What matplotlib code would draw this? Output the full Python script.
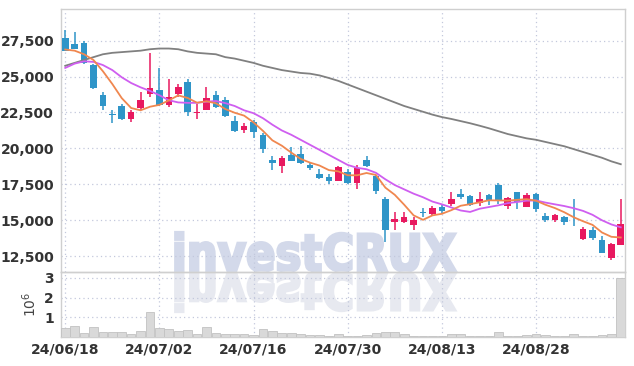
import matplotlib
matplotlib.use("Agg")
import matplotlib.pyplot as plt
import numpy as np
from matplotlib.textpath import TextPath
from matplotlib.patches import PathPatch
from matplotlib.font_manager import FontProperties
from matplotlib.transforms import Affine2D

plt.rcParams['font.family'] = ['Liberation Sans Narrow', 'DejaVu Sans']

# trading days 24/06/18 .. 24/09/10
date_labels = ['24/06/18', '24/07/02', '24/07/16', '24/07/30', '24/08/13', '24/08/28']
date_pos = [0, 10, 20, 30, 40, 50]

opens = [27650, 27250, 27350, 25800, 23750, 22350, 22950, 22050, 22800, 23800,
         24050, 23000, 23800, 24600, 22450, 22700, 23700, 23350, 21900, 21300,
         21850, 20900, 19200, 18800, 19550, 19600, 18850, 18250, 18000, 17750,
         18350, 17600, 19200, 18050, 16450, 14900, 14850, 14700, 15550, 15450,
         15950, 16150, 16800, 16700, 16200, 16750, 17450, 16000, 16950, 15950,
         16850, 15300, 15000, 15200, 15050, 13700, 14350, 13650, 12400, 13300]
highs = [28250, 28100, 27500, 25850, 23900, 22700, 23100, 22650, 23950, 26650,
         25600, 24800, 24450, 24800, 23100, 24250, 24000, 23550, 22250, 21800,
         22000, 21100, 19450, 19500, 20100, 20200, 19000, 18550, 18200, 18800,
         18600, 18850, 19450, 18150, 16600, 15600, 15600, 15250, 15850, 16000,
         16150, 17000, 17150, 16750, 17000, 16800, 17600, 16650, 17000, 16900,
         16900, 15500, 15450, 15300, 16450, 14500, 14500, 13900, 13400, 16500]
lows = [26750, 26900, 25900, 24150, 22650, 21800, 21950, 21850, 22650, 23550,
        22950, 22850, 23600, 22250, 22050, 22650, 22800, 22200, 21150, 21100,
        20750, 19650, 18500, 18300, 19100, 18900, 18500, 17900, 17550, 17700,
        17550, 17200, 18700, 16850, 13500, 14300, 14800, 14350, 15250, 15400,
        15500, 16000, 16450, 16000, 16000, 16050, 16100, 15750, 15750, 15900,
        15550, 14850, 14850, 14650, 14600, 13650, 13650, 12700, 12250, 13250]
closes = [26800, 26950, 25950, 24200, 22950, 22350, 22050, 22500, 23400, 24200,
          23000, 23600, 24250, 22500, 22550, 23500, 22900, 22250, 21200, 21550,
          21150, 19950, 18950, 19350, 19150, 18950, 18650, 17950, 17750, 18700,
          17600, 18650, 18750, 17050, 14300, 15100, 15200, 15050, 15500, 15850,
          15650, 16450, 16600, 16050, 16500, 16350, 16400, 16550, 16300, 16750,
          15800, 15000, 15400, 14850, 15000, 14400, 13750, 12750, 13350, 14750]

ma5 = [26880, 26800, 26550, 26150, 25370, 24480, 23500, 22810, 22650, 22900,
       23030, 23340, 23690, 23510, 23180, 23280, 23140, 22740, 22480, 22280,
       21810, 21220, 20560, 20190, 19710, 19270, 19010, 18810, 18490, 18400,
       18130, 18130, 18290, 18150, 17270, 16770, 16080, 15340, 15030, 15340,
       15450, 15700, 16010, 16120, 16250, 16390, 16380, 16370, 16420, 16470,
       16360, 16080, 15850, 15560, 15210, 14930, 14680, 14150, 13850, 13800]
ma10 = [25600, 25900, 26060, 26020, 25800, 25450, 24950, 24550, 24250, 24000,
        23700, 23350, 23200, 23170, 23170, 23250, 23300, 23150, 22950, 22650,
        22450, 22100, 21650, 21250, 20950, 20600, 20250, 19900, 19550, 19200,
        18850, 18650, 18550, 18300, 17850, 17450, 17150, 16850, 16600, 16300,
        16110, 15890, 15680, 15580, 15800, 15920, 16040, 16190, 16270, 16360,
        16380, 16230, 16110, 15990, 15840, 15650, 15380, 15000, 14710, 14510]
ma60 = [25750, 25950, 26150, 26350, 26550, 26650, 26700, 26750, 26800, 26900,
        26950, 26950, 26900, 26750, 26650, 26600, 26550, 26350, 26250, 26100,
        25950, 25750, 25600, 25450, 25350, 25250, 25200, 25080, 24900, 24700,
        24450, 24200, 23950, 23700, 23450, 23200, 22950, 22750, 22550, 22350,
        22180, 22050, 21900, 21750, 21580, 21400, 21200, 21000, 20850, 20700,
        20600, 20450, 20300, 20150, 19950, 19750, 19550, 19350, 19100, 18900]

# volume in millions of shares
volume = [0.44, 0.56, 0.19, 0.49, 0.24, 0.24, 0.24, 0.14, 0.29, 1.26,
          0.44, 0.39, 0.29, 0.34, 0.14, 0.49, 0.19, 0.14, 0.14, 0.14,
          0.09, 0.39, 0.29, 0.19, 0.19, 0.14, 0.09, 0.08, 0.06, 0.17,
          0.07, 0.07, 0.08, 0.20, 0.24, 0.24, 0.14, 0.07, 0.05, 0.05,
          0.06, 0.14, 0.14, 0.05, 0.05, 0.05, 0.27, 0.05, 0.05, 0.09,
          0.14, 0.08, 0.05, 0.05, 0.17, 0.05, 0.05, 0.09, 0.14, 3.00]

UP = '#e8195f'
DOWN = '#2f95c8'
GRID = '#c3c8dc'
FRAME = '#cfcfcf'
TXT = '#333333'

fig = plt.figure(figsize=(6.34, 3.66), dpi=100)
fig.patch.set_facecolor('white')
W, H = 634, 366

ax = fig.add_axes([61 / W, (H - 272) / H, 564 / W, 263 / H])
axv = fig.add_axes([61 / W, (H - 337) / H, 564 / W, 65 / H], sharex=ax)

# watermark + reflection, behind the axes
prop = FontProperties(family='DejaVu Sans', weight='heavy')
tp = TextPath((0, 0), 'investCRUX', size=1, prop=prop)
ext = tp.get_extents()
sx = 280 / ext.width
sy = 37 / 0.73
for flip, col in [(1, '#d3d9ea'), (-1, '#e7e9f0')]:
    tr = (Affine2D().translate(-ext.x0, 0).scale(sx, flip * sy)
          .translate(175.5, H - 272 + flip * 1.2).scale(1 / W, 1 / H) + fig.transFigure)
    wm = PathPatch(tp, transform=tr, facecolor=col, edgecolor=col,
                   linewidth=2.0, joinstyle='miter', zorder=-5)
    fig.patches.append(wm)

x = np.arange(len(closes))
o = np.array(opens)
c = np.array(closes)
colors = [UP if cc > oo else DOWN for oo, cc in zip(opens, closes)]
bottoms = np.minimum(o, c)
heights = np.maximum(np.abs(c - o), 35)

ax.vlines(x, lows, highs, colors=colors, linewidth=1.1, zorder=3)
ax.bar(x, heights, bottom=bottoms, width=0.7, color=colors, zorder=4)

ax.plot(x, ma60, color='#808080', lw=1.3, zorder=5)
ax.plot(x, ma10, color='#cf5ef0', lw=1.3, zorder=5)
ax.plot(x, ma5, color='#f0874f', lw=1.3, zorder=6)

axv.bar(x, volume, width=0.92, color='#d9d9d9', edgecolor='#c2c2c2', linewidth=0.6, zorder=3)

for a in (ax, axv):
    a.set_facecolor('none')
    a.grid(True, linestyle=(0, (1, 2.5)), color=GRID, linewidth=0.9)
    a.set_axisbelow(True)
    for s in a.spines.values():
        s.set_color(FRAME)
        s.set_linewidth(1)
    a.tick_params(length=0, colors=TXT, labelsize=10, pad=5)

ax.set_xlim(-0.45, 59.45)
ax.set_ylim(11400, 29700)
ax.set_yticks([12500, 15000, 17500, 20000, 22500, 25000, 27500])
ax.set_yticklabels(['{:,}'.format(v) for v in [12500, 15000, 17500, 20000, 22500, 25000, 27500]],
                   fontweight='bold')
ax.set_xticks(date_pos)
ax.tick_params(axis='x', labelbottom=False)

axv.set_ylim(0, 3.3)
axv.set_yticks([1, 2, 3])
axv.set_yticklabels(['1', '2', '3'], fontweight='bold')
axv.set_xticks(date_pos)
axv.set_xticklabels(date_labels, fontweight='bold')
axv.tick_params(axis='x', pad=4)
axv.set_ylabel('$10^6$', color='#444444', fontsize=10, labelpad=4)

fig.savefig('out.png', dpi=100, facecolor='white')
